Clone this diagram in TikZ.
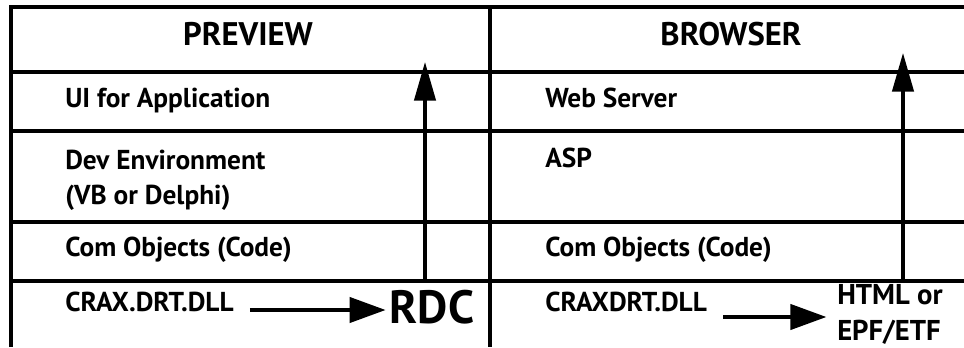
\documentclass[tikz,border=0pt]{standalone}
\usepackage{fontspec}
\setmainfont{PT Sans}
\usetikzlibrary{arrows.meta}

\tikzset{
  rule/.style={line width=2.5pt},
  cell/.style={anchor=base west, inner sep=0pt, font=\bfseries\fontsize{20.5}{26}\selectfont},
  head/.style={anchor=base, inner sep=0pt, font=\bfseries\fontsize{24.5}{28}\selectfont},
  uparrow/.style={line width=2.5pt, -{Triangle[length=29pt,width=16pt]}},
  rightarrow/.style={line width=2.5pt, -{Triangle[length=27pt,width=19pt]}},
}

\begin{document}
\begin{tikzpicture}[x=0.75pt,y=-0.75pt]
  \useasboundingbox (0,0) rectangle (964,347);

  % 罫線
  \draw[rule] (11,347) -- (11,7) -- (964,7);
  \draw[rule] (490,7) -- (490,347);
  \foreach \y in {72,131,222,281}
    \draw[rule] (11,\y) -- (964,\y);

  % 見出し
  \node[head] (preview) at (248,45) {PREVIEW};
  \node[head] (browser) at (731,45) {BROWSER};

  % 左の列
  \node[cell] (ui) at (65,107) {UI for Application};
  \node[cell, anchor=west, align=left] (dev) at (65,180) {Dev Environment\\(VB or Delphi)};
  \node[cell] (comL) at (65,256) {Com Objects (Code)};
  \node[cell] (crax) at (65,311) {CRAX.DRT.DLL};
  \node[anchor=base, inner sep=0pt, font=\bfseries\fontsize{35}{38}\selectfont] (rdc) at (432,323) {RDC};

  % 右の列
  \node[cell] (web) at (545,107) {Web Server};
  \node[cell] (asp) at (545,167) {ASP};
  \node[cell] (comR) at (545,256) {Com Objects (Code)};
  \node[cell] (craxdrt) at (545,311) {CRAXDRT.DLL};
  \node[anchor=west, inner sep=0pt, align=left, font=\bfseries\fontsize{21.5}{27}\selectfont] (html) at (837,314) {HTML or\\EPF/ETF};

  % 矢印
  \coordinate (upL0) at (425,281);
  \coordinate (upL1) at (425,62);
  \coordinate (upR0) at (903,281);
  \coordinate (upR1) at (903,53);
  \draw[uparrow] (upL0) -- (upL1);
  \draw[uparrow] (upR0) -- (upR1);
  \coordinate (rdcStart) at ([xshift=12pt,yshift=0.75pt]crax.base east);
  \coordinate (htmlStart) at ([xshift=12pt,yshift=-4.5pt]craxdrt.base east);
  \draw[rightarrow] (rdcStart) -- ([xshift=-3pt]rdcStart -| rdc.west);
  \draw[rightarrow] (htmlStart) -- ([xshift=-8pt]htmlStart -| html.west);
\end{tikzpicture}
\end{document}
